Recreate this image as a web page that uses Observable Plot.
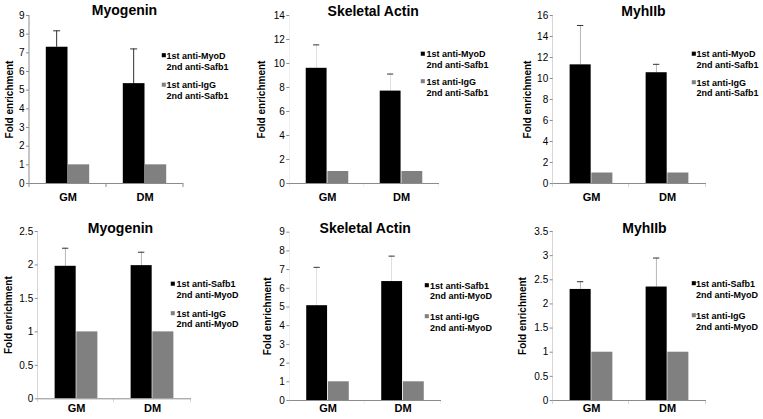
<!DOCTYPE html>
<html>
<head>
<meta charset="utf-8">
<script src="https://cdn.jsdelivr.net/npm/d3@7"></script>
<script src="https://cdn.jsdelivr.net/npm/@observablehq/plot@0.6"></script>
<style>
  html, body { margin: 0; padding: 0; background: #fff; }
  #chart { position: relative; width: 763px; height: 419px; overflow: hidden; background: #fff; }
  #chart > div { position: absolute; }
  svg { overflow: visible; }
</style>
</head>
<body>
<div id="chart"></div>
<script>
// ---------- data ----------
const categories = ["GM", "DM"];
const panelTitles = ["Myogenin", "Skeletal Actin", "MyhIIb", "Myogenin", "Skeletal Actin", "MyhIIb"];
const yLabel = "Fold enrichment";
const yMaxima = [9, 14, 16, 2.5, 9, 3.5];
const yTickSteps = [1, 2, 2, 0.5, 1, 0.5];
// specific ChIP-reChIP (black bars), value and upper error
const specificValues = [[7.3, 5.35], [9.6, 7.7], [11.3, 10.55], [1.98, 1.99], [5.07, 6.36], [2.3, 2.35]];
const specificErrors = [[0.88, 1.86], [1.95, 1.42], [3.75, 0.8], [0.27, 0.2], [2.05, 1.36], [0.16, 0.6]];
// IgG control (grey bars)
const controlValues = [[1, 1], [1, 1], [1, 1], [1, 1], [1, 1], [1, 1]];
const legendTopRow = [["1st anti-MyoD", "2nd anti-Safb1"], ["1st anti-IgG", "2nd anti-Safb1"]];
const legendBottomRow = [["1st anti-Safb1", "2nd anti-MyoD"], ["1st anti-IgG", "2nd anti-MyoD"]];

// ---------- layout (page pixels) ----------
const layout = [
  {left: 0,   top: 0,   w: 254, h: 205, x0: 29,    x1: 183, y0: 15,    y1: 183,   tcx: 124,   tb: 14,  ylx: 9.5, cb: 200,
   sq: 163.3, tx: 166,   lb: [58, 69, 87.5, 98.5]},
  {left: 254, top: 0,   w: 254, h: 205, x0: 289.3, x1: 439, y0: 15,    y1: 183,   tcx: 372.7, tb: 15,  ylx: 261, cb: 200,
   sq: 422.3, tx: 426,   lb: [56.5, 67.5, 84, 95]},
  {left: 508, top: 0,   w: 255, h: 205, x0: 552.7, x1: 706, y0: 15,    y1: 183,   tcx: 643,   tb: 15,  ylx: 527.5, cb: 200,
   sq: 693.3, tx: 696,   lb: [56.5, 67, 85, 95.5]},
  {left: 0,   top: 205, w: 254, h: 214, x0: 37.7,  x1: 191, y0: 231,   y1: 398.3, tcx: 120,   tb: 232, ylx: 8, cb: 411.5,
   sq: 172.3, tx: 176,   lb: [286.5, 297.5, 316, 326.5]},
  {left: 254, top: 205, w: 254, h: 214, x0: 289.3, x1: 441, y0: 231.7, y1: 400,   tcx: 364.7, tb: 232, ylx: 267, cb: 411.5,
   sq: 426.3, tx: 429.5, lb: [288, 298.5, 319, 330]},
  {left: 508, top: 205, w: 255, h: 214, x0: 552.7, x1: 706, y0: 231,   y1: 400,   tcx: 644,   tb: 232, ylx: 522, cb: 411.5,
   sq: 693.3, tx: 695.5, lb: [286, 297, 318, 329]}
];

const FONT = "'Liberation Sans', Arial, Helvetica, sans-serif";
const AXIS = "#8c8c8c";
const ERR = "#333333";
const GREY = "#808080";
const barW = 21.7;
const capHalf = 3.5;

const chart = document.getElementById("chart");

layout.forEach((L, i) => {
  const fw = L.x1 - L.x0;
  const bw = fw / categories.length;
  const yMax = yMaxima[i];
  const step = yTickSteps[i];
  const ticks = d3.range(0, yMax + step / 2, step).map(v => +v.toFixed(3));
  const rows = categories.map((c, j) => ({
    cat: c,
    specific: specificValues[i][j],
    top: specificValues[i][j] + specificErrors[i][j],
    control: controlValues[i][j]
  }));
  const legend = i < 3 ? legendTopRow : legendBottomRow;
  const fx = v => v - L.x0;  // offset from frame left
  const fy = v => v - L.y0;  // offset from frame top

  const legendLines = [
    {t: legend[0][0], b: L.lb[0]}, {t: legend[0][1], b: L.lb[1]},
    {t: legend[1][0], b: L.lb[2]}, {t: legend[1][1], b: L.lb[3]}
  ];

  const plot = Plot.plot({
    width: L.w,
    height: L.h,
    marginLeft: L.x0 - L.left,
    marginRight: L.left + L.w - L.x1,
    marginTop: L.y0 - L.top,
    marginBottom: L.top + L.h - L.y1,
    x: {type: "band", domain: categories, padding: 0, axis: null},
    y: {domain: [0, yMax], axis: null},
    style: {fontFamily: FONT, background: "transparent", color: "black"},
    marks: [
      // bars
      Plot.barY(rows, {x: "cat", y: "specific", fill: "black", insetLeft: bw / 2 - barW, insetRight: bw / 2}),
      Plot.barY(rows, {x: "cat", y: "control", fill: GREY, insetLeft: bw / 2, insetRight: bw / 2 - barW}),
      // error bars (upper only)
      Plot.barY(rows, {x: "cat", y1: "specific", y2: "top", fill: ERR,
        insetLeft: bw / 2 - barW / 2 - 0.5, insetRight: bw / 2 + barW / 2 - 0.5}),
      Plot.tickY(rows, {x: "cat", y: "top", stroke: ERR, strokeWidth: 1,
        insetLeft: bw / 2 - barW / 2 - capHalf, insetRight: bw / 2 + barW / 2 - capHalf}),
      // y axis line
      Plot.barY([categories[0]], {x: d => d, y1: 0, y2: yMax, fill: AXIS, insetLeft: -0.5, insetRight: bw - 0.5}),
      // x axis line
      Plot.ruleY([0], {stroke: AXIS}),
      // category boundary ticks
      Plot.barY(categories, {x: d => d, y1: 0, y2: 0, fill: AXIS, insetLeft: -0.5, insetRight: bw - 0.5, insetBottom: -4}),
      Plot.barY([categories[categories.length - 1]], {x: d => d, y1: 0, y2: 0, fill: AXIS, insetLeft: bw - 0.5, insetRight: -0.5, insetBottom: -4}),
      // y ticks
      Plot.axisY({ticks, tickSize: 3, tickPadding: 2, tickFormat: d => String(d), fontSize: 10,
        stroke: AXIS, fill: "black", label: null}),
      // category labels
      Plot.text(rows, {x: "cat", text: "cat", frameAnchor: "bottom", dy: L.cb - L.y1, lineAnchor: "bottom",
        fontSize: 11, fontWeight: "bold", fill: "black"}),
      // y label
      Plot.text([yLabel], {frameAnchor: "left", dx: fx(L.ylx), rotate: -90, fontSize: 10, fontWeight: "bold",
        textAnchor: "middle", lineAnchor: "middle", fill: "black"}),
      // title
      Plot.text([panelTitles[i]], {frameAnchor: "top-left", dx: fx(L.tcx), dy: fy(L.tb), textAnchor: "middle",
        lineAnchor: "bottom", fontSize: 14, fontWeight: "bold", fill: "black"}),
      // legend swatches
      Plot.dot([0], {frameAnchor: "top-left", dx: fx(L.sq), dy: fy(L.lb[0] - 3.3), symbol: "square", r: 2.3, fill: "black"}),
      Plot.dot([0], {frameAnchor: "top-left", dx: fx(L.sq), dy: fy(L.lb[2] - 3.3), symbol: "square", r: 2.3, fill: GREY}),
      // legend text
      ...legendLines.map(l => Plot.text([l.t], {frameAnchor: "top-left", dx: fx(L.tx), dy: fy(l.b),
        textAnchor: "start", lineAnchor: "bottom", fontSize: 9, fontWeight: "bold", fill: "black"}))
    ]
  });
  const holder = document.createElement("div");
  holder.style.left = L.left + "px";
  holder.style.top = L.top + "px";
  holder.appendChild(plot);
  chart.appendChild(holder);
});
</script>
</body>
</html>
